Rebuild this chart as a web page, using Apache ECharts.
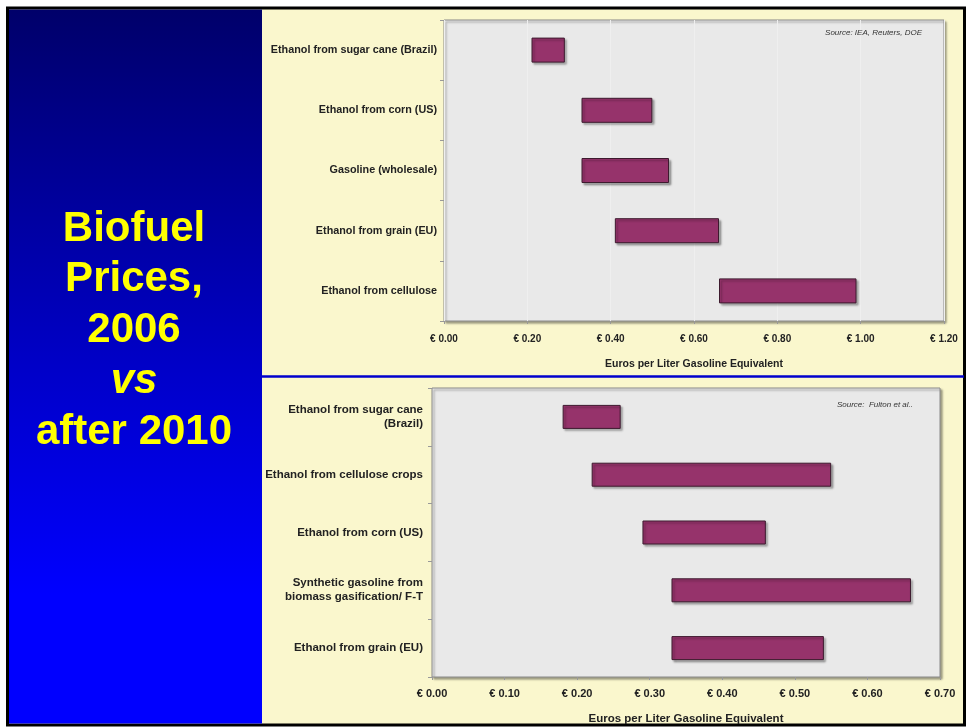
<!DOCTYPE html>
<html>
<head>
<meta charset="utf-8">
<script src="https://cdn.jsdelivr.net/npm/echarts@6/dist/echarts.min.js"></script>
<style>
html,body{margin:0;padding:0;background:#ffffff;}
#chart{width:969px;height:727px;}
</style>
</head>
<body>
<div id="chart"></div>
<script>
// ---- Data ----
var titleLines = ['Biofuel', 'Prices,', '2006', 'vs', 'after 2010'];

var categoriesTop = ['Ethanol from sugar cane (Brazil)', 'Ethanol from corn (US)', 'Gasoline (wholesale)', 'Ethanol from grain (EU)', 'Ethanol from cellulose'];
var lowTop  = [0.21, 0.33, 0.33, 0.41, 0.66];
var highTop = [0.29, 0.50, 0.54, 0.66, 0.99];
var sourceTop = 'Source: IEA, Reuters, DOE';

var categoriesBottom = ['Ethanol from sugar cane\n(Brazil)', 'Ethanol from cellulose crops', 'Ethanol from corn (US)', 'Synthetic gasoline from\nbiomass gasification/ F-T', 'Ethanol from grain (EU)'];
var lowBottom  = [0.18, 0.22, 0.29, 0.33, 0.33];
var highBottom = [0.26, 0.55, 0.46, 0.66, 0.54];
var sourceBottom = 'Source:  Fulton et al..';

var axisTitle = 'Euros per Liter Gasoline Equivalent';
var currency = '€ ';

// ---- Chart ----
var chart = echarts.init(document.getElementById('chart'), null, {renderer: 'canvas'});
var FONT = '"Liberation Sans", Arial, Helvetica, sans-serif';
var barColor = '#96336b';

function spans(lo, hi) { return hi.map(function (h, i) { return +(h - lo[i]).toFixed(2); }); }
function fmt(v) { return currency + v.toFixed(2); }

var gridCommon = {
  show: true,
  backgroundColor: '#e9e9e9',
  borderColor: '#8a8a8a',
  borderWidth: 1,
  shadowColor: 'rgba(0,0,0,0.35)',
  shadowBlur: 2,
  shadowOffsetX: 2,
  shadowOffsetY: 2
};

function xAxisCfg(idx, max, labelSize, nameGap, labelMargin, showSplit) {
  return {
    type: 'value', gridIndex: idx, min: 0, max: max, interval: max > 1 ? 0.2 : 0.1,
    axisLine: {show: false},
    axisTick: {show: true, length: 3, lineStyle: {color: '#999'}},
    splitLine: {show: showSplit, lineStyle: {color: '#efefef', width: 1}},
    axisLabel: {formatter: fmt, fontFamily: FONT, fontWeight: 'bold', fontSize: labelSize, color: '#222', margin: labelMargin},
    name: axisTitle, nameLocation: 'middle', nameGap: nameGap,
    nameTextStyle: {fontFamily: FONT, fontWeight: 'bold', fontSize: labelSize + 0.5, color: '#222'}
  };
}

function yAxisCfg(idx, cats, size, margin, lh) {
  return {
    type: 'category', gridIndex: idx, data: cats, inverse: true,
    axisLine: {show: false},
    axisTick: {show: true, length: 4, lineStyle: {color: '#999'}},
    axisLabel: {fontFamily: FONT, fontWeight: 'bold', fontSize: size, color: '#222', margin: margin, lineHeight: lh, align: 'right'}
  };
}

function seriesPair(idx, lo, hi, bw) {
  return [
    {type: 'bar', xAxisIndex: idx, yAxisIndex: idx, stack: 's' + idx, data: lo, barWidth: bw,
     itemStyle: {color: 'rgba(0,0,0,0)'}, silent: true},
    {type: 'bar', xAxisIndex: idx, yAxisIndex: idx, stack: 's' + idx, data: spans(lo, hi), barWidth: bw,
     itemStyle: {color: barColor, borderColor: '#3d1a2e', borderWidth: 1,
                 shadowColor: 'rgba(0,0,0,0.3)', shadowBlur: 2, shadowOffsetX: 2, shadowOffsetY: 2}}
  ];
}

var graphics = [
  {type: 'rect', shape: {x: 7.5, y: 8, width: 957, height: 717}, style: {fill: '#faf7cd', stroke: '#000', lineWidth: 3}, z: -10},
  {type: 'rect', shape: {x: 9, y: 9.5, width: 253, height: 714},
   style: {fill: new echarts.graphic.LinearGradient(0, 0, 0, 1, [
     {offset: 0, color: '#00006a'}, {offset: 0.5, color: '#0000c8'}, {offset: 0.82, color: '#0000ff'}, {offset: 1, color: '#0000ff'}])}, z: -9},
  {type: 'line', shape: {x1: 262, y1: 376.5, x2: 964, y2: 376.5}, style: {stroke: '#0000cc', lineWidth: 2.5}, z: -8},
  {type: 'text', x: 922, y: 33, style: {text: sourceTop, fontFamily: FONT, fontStyle: 'italic', fontSize: 8, fill: '#333', textAlign: 'right', textVerticalAlign: 'middle'}, z: 10},
  {type: 'text', x: 913, y: 405, style: {text: sourceBottom, fontFamily: FONT, fontStyle: 'italic', fontSize: 8, fill: '#333', textAlign: 'right', textVerticalAlign: 'middle'}, z: 10}
];
titleLines.forEach(function (t, i) {
  graphics.push({type: 'text', x: 134, y: 229 + i * 50.8,
    style: {text: t, fontFamily: FONT, fontWeight: 'bold', fontStyle: t === 'vs' ? 'italic' : 'normal', fontSize: 42, fill: '#ffff00', textAlign: 'center', textVerticalAlign: 'middle'}, z: 10});
});

var option = {
  animation: false,
  backgroundColor: '#ffffff',
  graphic: graphics,
  grid: [
    Object.assign({left: 444, top: 20, width: 500, height: 301}, gridCommon),
    Object.assign({left: 432, top: 388, width: 508, height: 289}, gridCommon)
  ],
  xAxis: [
    xAxisCfg(0, 1.2, 10, 38, 13, true),
    xAxisCfg(1, 0.7, 11, 36, 11, false)
  ],
  yAxis: [
    yAxisCfg(0, categoriesTop, 10.8, 7, 14),
    yAxisCfg(1, categoriesBottom, 11.5, 9, 14)
  ],
  series: [].concat(seriesPair(0, lowTop, highTop, 25), seriesPair(1, lowBottom, highBottom, 24))
};
chart.setOption(option);
</script>
</body>
</html>
